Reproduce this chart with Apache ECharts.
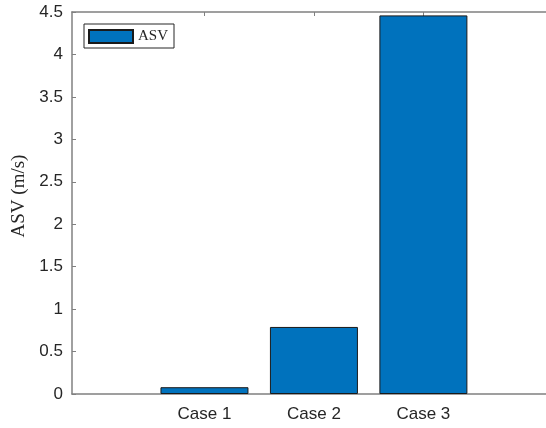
<!DOCTYPE html>
<html>
<head>
    <meta charset="utf-8">
    <title>ASV</title>
    <script src="https://cdn.jsdelivr.net/npm/echarts@6/dist/echarts.min.js"></script>
    <style>
        html, body {margin:0;padding:0;background:#fff}
        #chart {width:546px;height:428px}
    </style>
</head>
<body>
<div id="chart"></div>
<script>
    // data
    var categories = ['Case 1', 'Case 2', 'Case 3'];
    var positions = [1, 2, 3];
    var asv = [0.08, 0.79, 4.46];
    var yTicks = [0, 0.5, 1, 1.5, 2, 2.5, 3, 3.5, 4, 4.5];

    var barData = positions.map(function (p, i) { return [p, asv[i]]; });

    var chart = echarts.init(document.getElementById('chart'));
    var axisGray = '#808080';
    var textGray = '#262626';

    var option = {
        animation: false,
        grid: {left: 72, right: 0, top: 12, bottom: 34},
        legend: {
            data: [{name: 'ASV', icon: 'rect'}],
            left: 84,
            top: 24,
            orient: 'vertical',
            padding: [5, 6, 4, 4],
            itemWidth: 44,
            itemHeight: 13,
            itemGap: 0,
            borderColor: '#262626',
            borderWidth: 1,
            backgroundColor: '#fff',
            textStyle: {fontFamily: 'Liberation Serif', fontSize: 15, color: textGray}
        },
        xAxis: [{
            type: 'value',
            min: -0.21,
            max: 4.12,
            splitLine: {show: false},
            axisLine: {onZero: false, lineStyle: {color: axisGray, width: 1.5}},
            axisTick: {inside: true, length: 4, customValues: positions, lineStyle: {color: axisGray}},
            axisLabel: {
                customValues: positions,
                margin: 12,
                fontFamily: 'Liberation Sans',
                fontSize: 17,
                color: textGray,
                formatter: function (v) { return categories[positions.indexOf(v)] || ''; }
            }
        }, {
            type: 'value',
            position: 'top',
            min: -0.21,
            max: 4.12,
            splitLine: {show: false},
            axisLine: {onZero: false, lineStyle: {color: axisGray, width: 1.5}},
            axisTick: {inside: true, length: 4, customValues: positions, lineStyle: {color: axisGray}},
            axisLabel: {show: false}
        }],
        yAxis: {
            type: 'value',
            min: 0,
            max: 4.5,
            interval: 0.5,
            name: 'ASV (m/s)',
            nameLocation: 'middle',
            nameGap: 42,
            nameTextStyle: {fontFamily: 'Liberation Serif', fontSize: 19, color: textGray, padding: [0, 0, 0, 14]},
            splitLine: {show: false},
            axisLine: {onZero: false, lineStyle: {color: axisGray, width: 1.5}},
            axisTick: {inside: true, length: 4, lineStyle: {color: axisGray}},
            axisLabel: {
                margin: 9,
                fontFamily: 'Liberation Sans',
                fontSize: 17,
                color: textGray,
                formatter: function (v) { return yTicks.indexOf(v) >= 0 ? String(v) : ''; }
            }
        },
        series: [{
            name: 'ASV',
            type: 'bar',
            xAxisIndex: 0,
            data: barData,
            barWidth: 88,
            itemStyle: {color: '#0072BD', borderColor: '#1a1a1a', borderWidth: 1}
        }]
    };
    chart.setOption(option);
</script>
</body>
</html>
